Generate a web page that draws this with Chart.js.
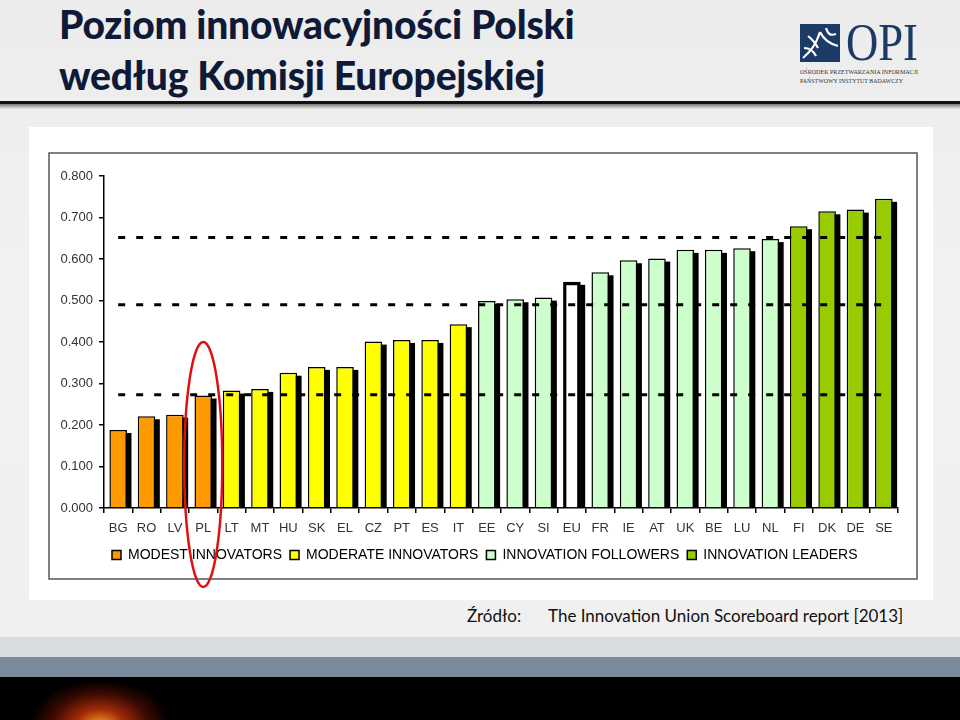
<!DOCTYPE html>
<html>
<head>
  <title>Poziom innowacyjnosci Polski</title>
  <meta charset="UTF-8">
  <script src="https://cdn.jsdelivr.net/npm/chart.js"></script>
  <style>
    body { margin: 0; }
    #slide { position: relative; width: 960px; height: 720px; overflow: hidden;
      background: linear-gradient(180deg, #ececec 0px, #f2f2f2 300px, #f0f0f0 637px); font-family: Lato, sans-serif; }
    #title { position: absolute; left: 59px; top: -1px; font-size: 39px; font-weight: 900; letter-spacing: -0.2px; line-height: 51px; color: #0e1a38; }
    #rule { position: absolute; left: 0; top: 101px; width: 960px; height: 3px; background: #111; }
    #rule2 { position: absolute; left: 0; top: 104px; width: 960px; height: 5px; background: linear-gradient(180deg, #777, #e8e8e8); }
    #logo { position: absolute; left: 800px; top: 22px; width: 120px; height: 75px; }
    #box { position: absolute; left: 29px; top: 127px; width: 904px; height: 473px; background: #fff; }
    .source { position: absolute; top: 605px; font-size: 17px; color: #111; }
    #band1 { position: absolute; left: 0; top: 637px; width: 960px; height: 20px; background: #d8dcdf; }
    #band2 { position: absolute; left: 0; top: 657px; width: 960px; height: 20px; background: #7b8b9b; }
    #band3 { position: absolute; left: 0; top: 677px; width: 960px; height: 43px;
      background: radial-gradient(ellipse 70px 45px at 100px 48px, #f5a020 0%, #a02a08 35%, #3a0a02 70%, #000 100%); }
  </style>
</head>
<body>
<div id="slide">
  <div id="title">Poziom innowacyjności Polski<br>według Komisji Europejskiej</div>
  <div id="rule"></div>
  <div id="rule2"></div>
  <svg id="logo" viewBox="0 0 120 75">
    <rect x="0" y="2" width="40" height="38" fill="#1b3a66"/>
    <path d="M3 36 C12 28 16 22 20 10 M20 10 C24 18 30 22 38 24 M8 14 C13 18 16 22 18 26 M26 6 C28 12 30 14 36 12 M4 26 C10 26 14 30 16 34" stroke="#fff" stroke-width="2.2" fill="none"/>
    <text x="46" y="38" font-family="Liberation Serif" font-size="52" textLength="72" lengthAdjust="spacingAndGlyphs" fill="#1b3a66">OPI</text>
    <text x="0" y="52" font-family="Liberation Serif" font-size="7" textLength="118" lengthAdjust="spacingAndGlyphs" fill="#333">OŚRODEK PRZETWARZANIA INFORMACJI</text>
    <text x="0" y="61" font-family="Liberation Serif" font-size="7" textLength="103" lengthAdjust="spacingAndGlyphs" fill="#333">PAŃSTWOWY INSTYTUT BADAWCZY</text>
  </svg>
  <div id="box"><div style="position:relative;width:904px;height:473px"><canvas id="ius"></canvas></div></div>
  <div class="source" style="left:467px">Źródło:</div>
  <div class="source" style="left:548px">The Innovation Union Scoreboard report [2013]</div>
  <div id="band1"></div>
  <div id="band2"></div>
  <div id="band3"></div>
</div>

<script>
var countries = ['BG','RO','LV','PL','LT','MT','HU','SK','EL','CZ','PT','ES','IT','EE','CY','SI','EU','FR','IE','AT','UK','BE','LU','NL','FI','DK','DE','SE'];
var scores = [0.188,0.221,0.225,0.271,0.283,0.287,0.326,0.340,0.340,0.401,0.405,0.405,0.443,0.499,0.503,0.507,0.545,0.568,0.597,0.601,0.622,0.622,0.626,0.648,0.679,0.715,0.719,0.745];
var groups = ['modest','modest','modest','modest','moderate','moderate','moderate','moderate','moderate','moderate','moderate','moderate','moderate','followers','followers','followers','eu','followers','followers','followers','followers','followers','followers','followers','leaders','leaders','leaders','leaders'];
var groupNames = ['MODEST INNOVATORS','MODERATE INNOVATORS','INNOVATION FOLLOWERS','INNOVATION LEADERS'];
var groupKeys = ['modest','moderate','followers','leaders'];
var thresholds = [0.273, 0.490, 0.652];
var yTicks = [0, 0.1, 0.2, 0.3, 0.4, 0.5, 0.6, 0.7, 0.8];

var groupColors = { modest: '#ff9900', moderate: '#ffff00', followers: '#ccffcc', leaders: '#99cc00', eu: '#ffffff' };

var barColors = groups.map(function (g) { return groupColors[g]; });
var barBorders = groups.map(function (g) { return g === 'eu' ? 3.5 : 1.5; });

var datasets = [{
  type: 'bar',
  data: scores,
  backgroundColor: barColors,
  borderColor: '#000',
  borderWidth: barBorders,
  borderSkipped: 'bottom',
  categoryPercentage: 1,
  barPercentage: 0.62,
  order: 2
}];
thresholds.forEach(function (t) {
  datasets.push({
    type: 'line',
    data: countries.map(function () { return t; }),
    borderColor: '#000',
    borderWidth: 3,
    borderDash: [7, 11],
    pointRadius: 0,
    fill: false,
    order: 1
  });
});

// black drop shadow behind each bar, like the old excel chart
var barShadow = {
  id: 'barShadow',
  beforeDatasetDraw: function (chart, args) {
    if (args.meta.type !== 'bar') return;
    var ctx = chart.ctx;
    ctx.save();
    ctx.fillStyle = '#000';
    args.meta.data.forEach(function (bar) {
      var p = bar.getProps(['x', 'y', 'base', 'width'], true);
      ctx.fillRect(p.x - p.width / 2 + 4.5, p.y + 3, p.width, p.base - p.y - 3);
    });
    ctx.restore();
  }
};

var frameAndMark = {
  id: 'frameAndMark',
  beforeDraw: function (chart) {
    var ctx = chart.ctx;
    ctx.save();
    ctx.strokeStyle = '#555';
    ctx.lineWidth = 1.5;
    ctx.strokeRect(20, 26, 868, 426);
    ctx.restore();
  },
  afterDraw: function (chart) {
    var ctx = chart.ctx;
    var x = chart.scales.x.getPixelForValue(countries.indexOf('PL'));
    var top = chart.scales.y.getPixelForValue(0.4);
    var bottom = chart.scales.y.getPixelForValue(0) + 79;
    ctx.save();
    ctx.strokeStyle = '#e01010';
    ctx.lineWidth = 2.5;
    ctx.beginPath();
    ctx.ellipse(x, (top + bottom) / 2, 19, (bottom - top) / 2, 0, 0, Math.PI * 2);
    ctx.stroke();
    ctx.restore();
  }
};

new Chart(document.getElementById('ius'), {
  data: { labels: countries, datasets: datasets },
  plugins: [barShadow, frameAndMark],
  options: {
    responsive: true,
    maintainAspectRatio: false,
    animation: false,
    layout: { padding: { left: 20, right: 35, top: 49, bottom: 28 } },
    plugins: {
      tooltip: { enabled: false },
      legend: {
        position: 'bottom',
        align: 'start',
        fullSize: false,
        labels: {
          color: '#333',
          font: { family: 'Liberation Sans', size: 14 },
          boxWidth: 9,
          boxHeight: 9,
          padding: 8,
          generateLabels: function () {
            return groupKeys.map(function (k, i) {
              return { text: groupNames[i], fillStyle: groupColors[k], strokeStyle: '#000', lineWidth: 1.5, hidden: false, datasetIndex: 0 };
            });
          }
        }
      }
    },
    scales: {
      x: {
        offset: true,
        grid: { drawOnChartArea: false, offset: true, color: '#000', tickLength: 5, lineWidth: 1.5 },
        border: { color: '#000', width: 1.5 },
        ticks: { color: '#333', font: { family: 'Liberation Sans', size: 13 }, maxRotation: 0, autoSkip: false, padding: 8 },
        afterFit: function (scale) { scale.height = 32; }
      },
      y: {
        min: 0,
        max: 0.8,
        afterBuildTicks: function (scale) { scale.ticks = yTicks.map(function (v) { return { value: v }; }); },
        grid: { drawOnChartArea: false, color: '#000', tickLength: 5, lineWidth: 1.5 },
        border: { color: '#000', width: 1.5 },
        ticks: { color: '#333', font: { family: 'Liberation Sans', size: 13 }, padding: 6,
          callback: function (v) { return v.toFixed(3); } },
        afterFit: function (scale) { scale.width = 55; }
      }
    }
  }
});
</script>
</body>
</html>
